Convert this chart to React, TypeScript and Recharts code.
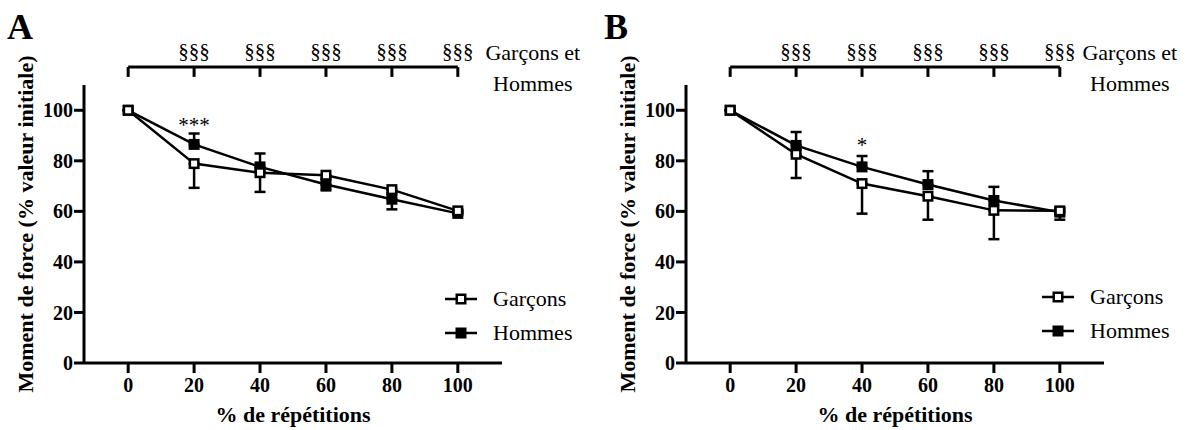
import React from 'react';
import {
  LineChart, Line, XAxis, YAxis, ErrorBar, ReferenceLine, ReferenceDot, Legend,
} from 'recharts';

// ---------- data ----------
const reps = [0, 20, 40, 60, 80, 100];
const yTicks = [0, 20, 40, 60, 80, 100];
const seriesNames = ['Garçons', 'Hommes'];

const garconsA = [100, 78.9, 75.3, 74.3, 68.6, 60.2];
const garconsSdA = [0, 9.6, 7.6, 6.0, 7.8, 1.0];
const hommesA = [100, 86.5, 77.6, 70.6, 64.8, 59.2];
const hommesSdA = [0, 4.3, 5.3, 2.5, 2.5, 1.0];

const garconsB = [100, 82.6, 71.0, 66.0, 60.4, 60.2];
const garconsSdB = [0, 9.4, 11.9, 9.3, 11.4, 3.5];
const hommesB = [100, 86.1, 77.6, 70.6, 64.3, 59.7];
const hommesSdB = [0, 5.3, 4.3, 5.3, 5.4, 1.5];

const sigX = [20, 40, 60, 80, 100];
const sigLabel = '§§§';
const groupLabel = ['Garçons et', 'Hommes'];
const starA = { x: 20, text: '***' };
const starB = { x: 40, text: '*' };

const xLabel = '% de répétitions';
const yLabel = 'Moment de force (% valeur initiale)';

// ---------- style ----------
const FONT = "'Liberation Serif', 'Times New Roman', serif";
const BLACK = '#000';

const buildRows = (g: number[], gs: number[], h: number[], hs: number[]) =>
  reps.map((x, i) => ({ x, g: g[i], gErr: [gs[i], 0], h: h[i], hErr: [0, hs[i]] }));

const square = (fill: string) => (props: any) => {
  const { cx, cy, index } = props;
  if (cx == null || cy == null) return <g key={`e-${index}`} />;
  return (
    <rect key={`d-${index}`} x={cx - 4.25} y={cy - 4.25} width={8.5} height={8.5}
      fill={fill} stroke={BLACK} strokeWidth={2.5} />
  );
};

const YLab = (props: any) => {
  const vb = props.viewBox || {};
  const x = vb.x + vb.width - 59;
  const y = vb.y + vb.height / 2;
  return (
    <text x={x} y={y} transform={`rotate(-90 ${x} ${y})`} textAnchor="middle"
      dominantBaseline="central" fontFamily={FONT} fontWeight="bold" fontSize={22} fill={BLACK}>
      {yLabel}
    </text>
  );
};

const XLab = (props: any) => {
  const vb = props.viewBox || {};
  return (
    <text x={vb.x + vb.width / 2} y={422} textAnchor="middle" fontFamily={FONT}
      fontWeight="bold" fontSize={22} fill={BLACK}>
      {xLabel}
    </text>
  );
};

type PanelProps = {
  rows: any[];
  star: { x: number; text: string };
  starY: number;
  groupDx: number;
  legendLeft: number;
  legendTop: number;
};

const Panel = ({ rows, star, starY, groupDx, legendLeft, legendTop }: PanelProps) => (
  <LineChart width={584} height={430} data={rows}
    margin={{ top: 85, right: 82, bottom: 0, left: 0 }}>
    <XAxis type="number" dataKey="x" domain={[-13.4, 113.4]} ticks={reps}
      allowDataOverflow height={67} tickSize={10} tickMargin={5}
      axisLine={{ stroke: BLACK, strokeWidth: 3 }}
      tickLine={{ stroke: BLACK, strokeWidth: 3 }}
      tick={{ fill: BLACK, fontSize: 20, fontWeight: 'bold', fontFamily: FONT }}
      label={{ content: XLab }} />
    <YAxis type="number" domain={[0, 110]} ticks={yTicks} width={84}
      allowDataOverflow tickSize={10} tickMargin={1}
      axisLine={{ stroke: BLACK, strokeWidth: 3 }}
      tickLine={{ stroke: BLACK, strokeWidth: 3 }}
      tick={{ fill: BLACK, fontSize: 20, fontWeight: 'bold', fontFamily: FONT }}
      label={{ content: YLab }} />

    <ReferenceLine segment={[{ x: 0, y: 117.1 }, { x: 100, y: 117.1 }]} ifOverflow="visible"
      stroke={BLACK} strokeWidth={3} />
    {reps.map((rx) => (
      <ReferenceLine key={`bt-${rx}`} segment={[{ x: rx, y: 117.1 }, { x: rx, y: 113.2 }]}
        ifOverflow="visible" stroke={BLACK} strokeWidth={3} />
    ))}
    {sigX.map((sx) => (
      <ReferenceDot key={`sig-${sx}`} x={sx} y={120.5} r={0} ifOverflow="visible"
        shape={(p: any) => (
          <text x={p.cx} y={p.cy} textAnchor="middle" fontFamily={FONT} fontSize={21} fill={BLACK}>
            {sigLabel}
          </text>
        )} />
    ))}
    <ReferenceDot x={100} y={119.7} r={0} ifOverflow="visible"
      shape={(p: any) => (
        <text x={p.cx + groupDx} y={p.cy} textAnchor="middle" fontFamily={FONT} fontSize={22} fill={BLACK}>
          <tspan x={p.cx + groupDx}>{groupLabel[0]}</tspan>
          <tspan x={p.cx + groupDx} dy={31}>{groupLabel[1]}</tspan>
        </text>
      )} />
    <ReferenceDot x={star.x} y={starY} r={0} ifOverflow="visible"
      shape={(p: any) => (
        <text x={p.cx} y={p.cy} textAnchor="middle" fontFamily={FONT} fontSize={21} fill={BLACK}>
          {star.text}
        </text>
      )} />

    <Line type="linear" dataKey="h" name={seriesNames[1]} stroke={BLACK} strokeWidth={2.5}
      isAnimationActive={false} dot={square(BLACK)} activeDot={false}>
      <ErrorBar dataKey="hErr" direction="y" width={5.5} stroke={BLACK} strokeWidth={2.5} />
    </Line>
    <Line type="linear" dataKey="g" name={seriesNames[0]} stroke={BLACK} strokeWidth={2.5}
      isAnimationActive={false} dot={square('#fff')} activeDot={false}>
      <ErrorBar dataKey="gErr" direction="y" width={5.5} stroke={BLACK} strokeWidth={2.5} />
    </Line>

    <Legend layout="vertical" align="center" verticalAlign="middle"
      wrapperStyle={{ left: legendLeft, top: legendTop, width: 140, height: 70 }}
      content={() => (
        <div style={{ fontFamily: FONT, fontSize: 22, color: BLACK }}>
          {seriesNames.map((n, i) => (
            <div key={n} style={{ display: 'flex', alignItems: 'center', height: 34 }}>
              <svg width={32} height={14} style={{ display: 'block' }}>
                <line x1={0} x2={32} y1={7} y2={7} stroke={BLACK} strokeWidth={2.5} />
                <rect x={11.75} y={2.75} width={8.5} height={8.5} fill={i === 0 ? '#fff' : BLACK}
                  stroke={BLACK} strokeWidth={2.5} />
              </svg>
              <span style={{ marginLeft: 16, lineHeight: '34px' }}>{n}</span>
            </div>
          ))}
        </div>
      )} />
  </LineChart>
);

const rowsA = buildRows(garconsA, garconsSdA, hommesA, hommesSdA);
const rowsB = buildRows(garconsB, garconsSdB, hommesB, hommesSdB);

export default function App() {
  return (
    <div style={{ position: 'absolute', left: 0, top: 0, width: 1186, height: 430, background: '#fff', overflow: 'hidden' }}>
      <div style={{ position: 'absolute', left: 0, top: 0 }}>
        <Panel rows={rowsA} star={starA} starY={91.4} groupDx={75} legendLeft={445} legendTop={282} />
      </div>
      <div style={{ position: 'absolute', left: 602, top: 0 }}>
        <Panel rows={rowsB} star={starB} starY={83.4} groupDx={70} legendLeft={440} legendTop={280} />
      </div>
      <svg width={1186} height={60} style={{ position: 'absolute', left: 0, top: 0, pointerEvents: 'none' }}>
        <text x={7} y={39} fontFamily={FONT} fontWeight="bold" fontSize={36} fill={BLACK}>A</text>
        <text x={604} y={39} fontFamily={FONT} fontWeight="bold" fontSize={36} fill={BLACK}>B</text>
      </svg>
    </div>
  );
}
